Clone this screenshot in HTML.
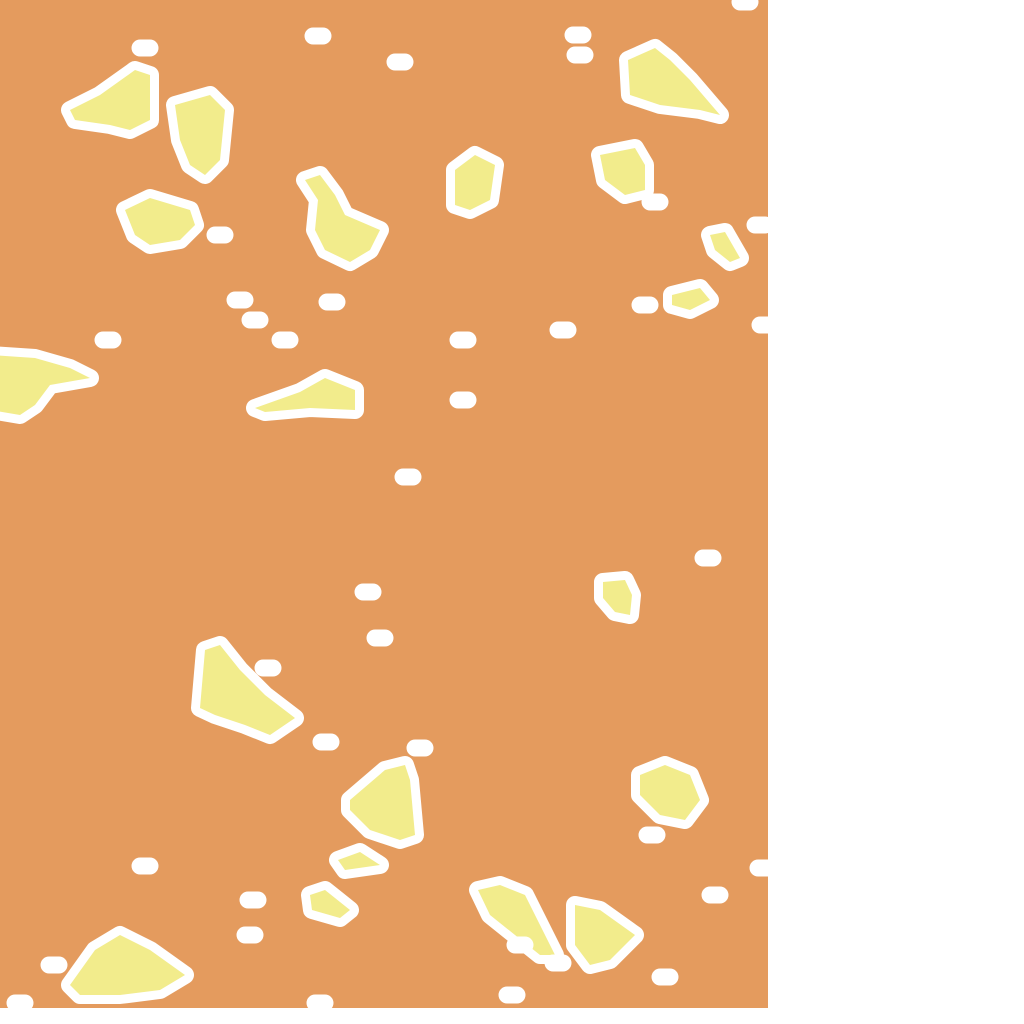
<!DOCTYPE html>
<html><head><meta charset="utf-8"><style>
html,body{margin:0;padding:0;background:#fff;width:1024px;height:1024px;overflow:hidden}
svg{display:block}
</style></head><body>
<svg width="1024" height="1024" viewBox="0 0 1024 1024">
<rect x="0" y="0" width="768" height="1008" fill="#E49B5E"/>
<g id="islands"></g>
<g id="dots"></g>
</svg>
<script>
const islands = [
[[70,110],[100,95],[135,70],[150,75],[150,120],[130,130],[110,125],[75,120]],
[[175,105],[210,95],[225,110],[220,160],[205,175],[190,165],[180,140]],
[[125,210],[150,198],[190,210],[195,225],[180,240],[150,245],[135,235]],
[[305,180],[320,175],[335,195],[345,215],[380,230],[370,250],[350,262],[325,250],[315,230],[318,200]],
[[455,170],[475,155],[495,165],[490,200],[470,210],[455,205]],
[[628,60],[655,48],[670,60],[690,80],[720,115],[700,110],[660,105],[630,95]],
[[600,155],[635,148],[645,165],[645,190],[625,195],[605,180]],
[[710,235],[725,232],[740,258],[730,262],[715,250]],
[[672,295],[700,288],[710,300],[690,310],[672,305]],
[[-10,355],[35,358],[70,368],[90,378],[50,385],[35,405],[20,415],[-10,410]],
[[255,408],[300,392],[325,378],[355,390],[355,410],[310,408],[265,412]],
[[603,582],[625,580],[632,595],[630,615],[615,612],[603,598]],
[[205,650],[220,645],[240,670],[265,695],[295,718],[270,735],[245,725],[215,715],[200,708]],
[[350,800],[385,770],[405,765],[410,780],[415,835],[400,840],[370,830],[350,810]],
[[640,775],[665,765],[690,775],[700,800],[685,820],[660,815],[640,795]],
[[338,860],[360,852],[380,865],[345,870]],
[[310,895],[325,890],[350,910],[340,918],[312,910]],
[[478,890],[500,885],[525,895],[545,935],[555,955],[540,955],[515,935],[490,915]],
[[575,905],[600,910],[635,935],[610,960],[590,965],[575,945]],
[[70,985],[95,950],[120,935],[150,950],[185,975],[160,990],[120,995],[80,995]]
];
const dots = [[145,48],[318,36],[400,62],[578,35],[580,55],[745,2],[655,202],[760,225],[220,235],[240,300],[255,320],[332,302],[285,340],[108,340],[463,340],[563,330],[645,305],[765,325],[463,400],[408,477],[708,558],[368,592],[380,638],[268,668],[326,742],[420,748],[652,835],[145,866],[253,900],[250,935],[54,965],[20,1003],[320,1003],[512,995],[665,977],[715,895],[763,868],[558,963],[520,945]];
const NS='http://www.w3.org/2000/svg';
const gi=document.getElementById('islands');
islands.forEach((p,i)=>{
  const el=document.createElementNS(NS,'polygon');
  el.setAttribute('points',p.map(q=>q.join(',')).join(' '));
  el.setAttribute('fill','#F2EC8C');
  el.setAttribute('stroke','#fff');
  el.setAttribute('stroke-width','18');
  el.setAttribute('paint-order','stroke');
  el.setAttribute('stroke-linejoin','round');
  
  
  gi.appendChild(el);
});
const gd=document.getElementById('dots');
dots.forEach((d,i)=>{
  const el=document.createElementNS(NS,'path');
  el.setAttribute('d',`M${d[0]-5},${d[1]}h10`);
  el.setAttribute('stroke','#fff');
  el.setAttribute('stroke-width','17');
  el.setAttribute('stroke-linecap','round');
  
  
  gd.appendChild(el);
});
</script>
</body></html>
